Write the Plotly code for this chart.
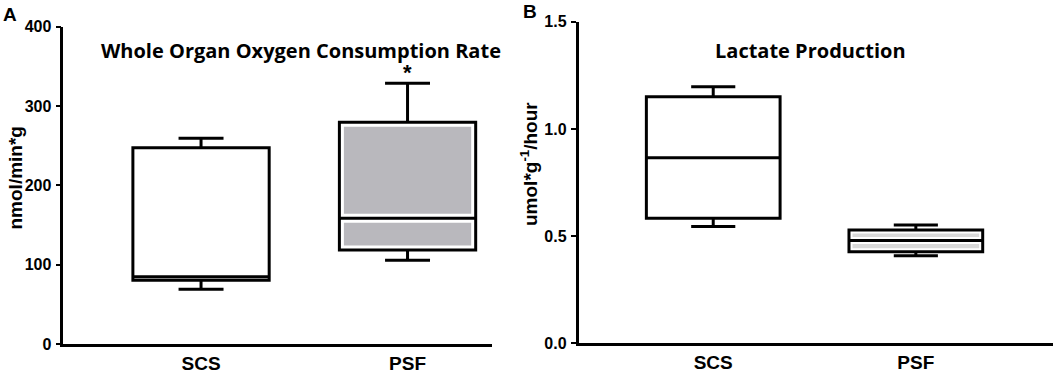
import plotly.graph_objects as go

# ---------------- data ----------------
categories = ["SCS", "PSF"]

# Panel A: Whole Organ Oxygen Consumption Rate (nmol/min*g)
ocr_lower = [69, 105.5]
ocr_q1 = [80.5, 118.5]
ocr_median = [84.8, 158.4]
ocr_q3 = [247.4, 279.5]
ocr_upper = [259.3, 328.6]

# Panel B: Lactate Production (umol*g^-1/hour)
lac_lower = [0.545, 0.408]
lac_q1 = [0.583, 0.427]
lac_median = [0.866, 0.480]
lac_q3 = [1.150, 0.528]
lac_upper = [1.197, 0.552]

fills_a = ["white", "#b9b8bd"]
fills_b = ["white", "#d9d9d9"]

W, H = 1053, 376
fig = go.Figure()


def add_box(i, lower, q1, med, q3, upper, fill, xa, ya, gap):
    # inner filled box with a white halo (gap) around edges and median
    if fill != "white":
        fig.add_trace(go.Box(
            x=[i], q1=[q1[i]], median=[med[i]], q3=[q3[i]],
            lowerfence=[q1[i]], upperfence=[q3[i]],
            fillcolor=fill, line=dict(color="white", width=gap),
            width=0.66, whiskerwidth=0, boxpoints=False,
            xaxis=xa, yaxis=ya, showlegend=False, hoverinfo="skip"))
    # outer black outlined box with whiskers
    fig.add_trace(go.Box(
        x=[i], q1=[q1[i]], median=[med[i]], q3=[q3[i]],
        lowerfence=[lower[i]], upperfence=[upper[i]],
        fillcolor="rgba(0,0,0,0)" if fill != "white" else "white",
        line=dict(color="black", width=3),
        width=0.66, whiskerwidth=0.33, boxpoints=False,
        xaxis=xa, yaxis=ya, showlegend=False, hoverinfo="skip"))


for i in range(len(categories)):
    add_box(i, ocr_lower, ocr_q1, ocr_median, ocr_q3, ocr_upper, fills_a[i], "x", "y", 9)
    add_box(i, lac_lower, lac_q1, lac_median, lac_q3, lac_upper, fills_b[i], "x2", "y2", 7)

tickfont = dict(family="Liberation Sans", size=16, color="black", weight="bold")
xtickfont = dict(family="Liberation Sans", size=19, color="black", weight="bold")

common_x = dict(tickmode="array", tickvals=[0, 1], ticktext=categories,
                showline=True, linecolor="black", linewidth=2.5, ticks="",
                showgrid=False, zeroline=False, tickfont=xtickfont,
                ticklabelstandoff=0, automargin=False)
common_y = dict(showline=True, linecolor="black", linewidth=2.5, ticks="outside",
                ticklen=5, tickwidth=2, tickcolor="black", showgrid=False,
                zeroline=False, tickfont=tickfont, ticklabelstandoff=1,
                automargin=False)

fig.update_layout(
    template="none", boxmode="overlay",
    width=W, height=H, margin=dict(l=0, r=0, t=0, b=0, autoexpand=False),
    paper_bgcolor="white", plot_bgcolor="white", showlegend=False,
    xaxis=dict(domain=[63.3 / W, 492 / W], range=[-0.667, 1.409], anchor="y", **common_x),
    yaxis=dict(domain=[(H - 344) / H, (H - 26.7) / H], range=[0, 400],
               tickvals=[0, 100, 200, 300, 400], anchor="x", **common_y),
    xaxis2=dict(domain=[578.5 / W, 1.0], range=[-0.665, 1.677], anchor="y2", **common_x),
    yaxis2=dict(domain=[(H - 343.3) / H, (H - 21.7) / H], range=[0, 1.5],
                tickvals=[0, 0.5, 1.0, 1.5], tickformat=".1f", anchor="x2", **common_y),
)

title_font = dict(family="Open Sans", size=20, color="black", weight="bold")
label_font = dict(family="Liberation Sans", size=19, color="black", weight="bold")
letter_font = dict(family="Liberation Sans", size=19, color="black", weight="bold")

annotations = [
    dict(text="Whole Organ Oxygen Consumption Rate", xref="paper", yref="paper",
         x=301 / W, y=(H - 51) / H, showarrow=False, font=title_font,
         xanchor="center", yanchor="middle"),
    dict(text="Lactate Production", xref="paper", yref="paper",
         x=810 / W, y=(H - 51) / H, showarrow=False, font=title_font,
         xanchor="center", yanchor="middle"),
    dict(text="nmol/min*g", xref="paper", yref="paper", textangle=-90,
         x=14.5 / W, y=(H - 178) / H, showarrow=False, font=label_font,
         xanchor="center", yanchor="middle"),
    dict(text="umol*g<sup>-1</sup>/hour", xref="paper", yref="paper", textangle=-90,
         x=529 / W, y=(H - 164) / H, showarrow=False, font=label_font,
         xanchor="center", yanchor="middle"),
    dict(text="A", xref="paper", yref="paper", x=10 / W, y=(H - 14.5) / H,
         showarrow=False, font=letter_font, xanchor="center", yanchor="middle"),
    dict(text="B", xref="paper", yref="paper", x=529.5 / W, y=(H - 11.5) / H,
         showarrow=False, font=letter_font, xanchor="center", yanchor="middle"),
    dict(text="*", xref="x", yref="y", x=1, y=ocr_upper[1], yshift=-4,
         showarrow=False, font=dict(family="Liberation Sans", size=22, color="black", weight="bold"),
         xanchor="center", yanchor="bottom"),
]
fig.update_layout(annotations=annotations)

fig.write_html("out.html", config={"displayModeBar": False},
               post_script="document.body.style.margin='0px';")
